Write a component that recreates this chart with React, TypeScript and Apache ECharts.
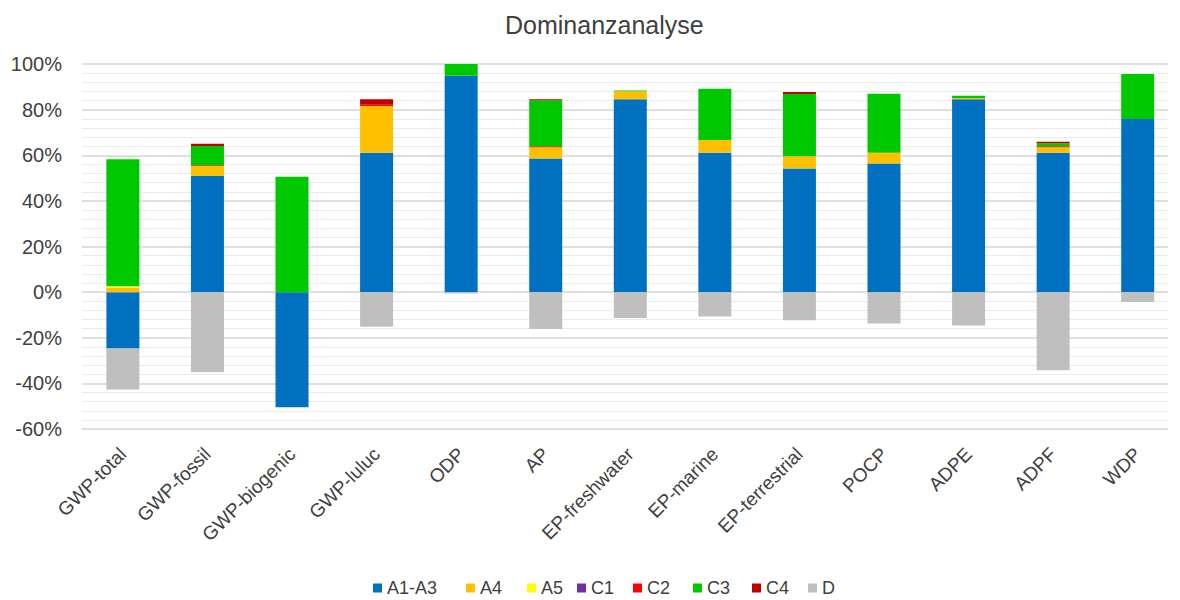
import React, { useEffect, useRef } from "react";
import * as echarts from "echarts";

const categories = [
  "GWP-total", "GWP-fossil", "GWP-biogenic", "GWP-luluc", "ODP", "AP",
  "EP-freshwater", "EP-marine", "EP-terrestrial", "POCP", "ADPE", "ADPF", "WDP",
];

const a1a3 = [-24.7, 50.9, -50.5, 61.1, 94.9, 58.6, 84.5, 61.1, 54.2, 56.4, 84.6, 61.1, 75.9];
const a4 = [2.0, 4.4, 0, 20.5, 0, 4.9, 3.6, 5.6, 5.4, 4.7, 0.5, 2.4, 0];
const a5 = [0.6, 0, 0, 0, 0, 0, 0, 0, 0, 0, 0, 0, 0];
const c1 = [0, 0, 0, 0, 0, 0, 0, 0, 0, 0, 0, 0, 0];
const c2 = [0, 0.3, 0, 0.5, 0, 0.5, 0, 0, 0, 0, 0, 0.4, 0];
const c3 = [55.6, 8.5, 50.6, 0, 5.1, 20.1, 0.3, 22.5, 27.3, 25.9, 1.0, 1.4, 19.7];
const c4 = [0, 0.9, 0, 2.4, 0, 0.5, 0, 0, 0.8, 0, 0, 0.6, 0];
const dVals = [-18.0, -35.0, 0, -15.2, -0.6, -16.2, -11.3, -10.7, -12.3, -13.7, -14.6, -34.2, -4.3];

const seriesNames = ["A1-A3", "A4", "A5", "C1", "C2", "C3", "C4", "D"];
const seriesColors = ["#0070C0", "#FFC000", "#FFFF00", "#7030A0", "#FF0000", "#00C800", "#C00000", "#BFBFBF"];
const seriesData = [a1a3, a4, a5, c1, c2, c3, c4, dVals];
const legendLefts = [373, 466, 527, 577, 633, 693, 752, 808];

export default function App() {
  const ref = useRef<HTMLDivElement>(null);
  useEffect(() => {
    if (!ref.current) return;
    const chart = echarts.init(ref.current, null, { renderer: "svg" });
    const font = "'Liberation Sans', Arial, sans-serif";
    const textColor = "#404040";
    chart.setOption({
      animation: false,
      backgroundColor: "#ffffff",
      title: {
        text: "Dominanzanalyse",
        left: 500,
        top: 7,
        textStyle: { fontFamily: font, fontSize: 25, fontWeight: "normal", color: textColor },
      },
      legend: seriesNames.map((name, i) => ({
        data: [name],
        left: legendLefts[i],
        top: 578,
        padding: 0,
        itemWidth: 9,
        itemHeight: 9,
        icon: "rect",
        textStyle: { fontFamily: font, fontSize: 18, color: textColor, lineHeight: 20 },
      })),
      grid: [
        { left: 82, right: 12, top: 64, bottom: 171, containLabel: false },
        { left: 80.6, width: 1102.8, top: 64, bottom: 171, containLabel: false },
      ],
      xAxis: [
        { gridIndex: 0, type: "value", min: 0, max: 1, show: false },
        {
          gridIndex: 1,
          type: "category",
          data: categories,
          position: "bottom",
          axisLine: { show: false, onZero: false },
          axisTick: { show: false },
          axisLabel: {
            rotate: 45,
            interval: 0,
            fontFamily: font,
            fontSize: 19,
            color: textColor,
            margin: 22,
          },
        },
      ],
      yAxis: [
        {
          gridIndex: 0,
          type: "value",
          min: -60,
          max: 100,
          interval: 20,
          axisLine: { show: false },
          axisTick: { show: false },
          axisLabel: {
            formatter: "{value}%",
            fontFamily: font,
            fontSize: 20,
            color: textColor,
            margin: 20,
          },
          splitLine: { show: true, lineStyle: { color: "#D4D4D4", width: 1.5 } },
          minorTick: { show: false, splitNumber: 5 },
          minorSplitLine: { show: true, lineStyle: { color: "#EBEBEB", width: 1 } },
        },
        {
          gridIndex: 1,
          type: "value",
          min: -60,
          max: 100,
          interval: 20,
          show: false,
          splitLine: { show: false },
        },
      ],
      series: seriesNames.map((name, i) => ({
        name,
        type: "bar",
        stack: "total",
        xAxisIndex: 1,
        yAxisIndex: 1,
        barWidth: 33,
        data: seriesData[i],
        itemStyle: { color: seriesColors[i] },
      })),
    });
    return () => chart.dispose();
  }, []);
  return (
    <div
      ref={ref}
      style={{ position: "absolute", left: 0, top: 0, width: 1180, height: 600 }}
    />
  );
}
